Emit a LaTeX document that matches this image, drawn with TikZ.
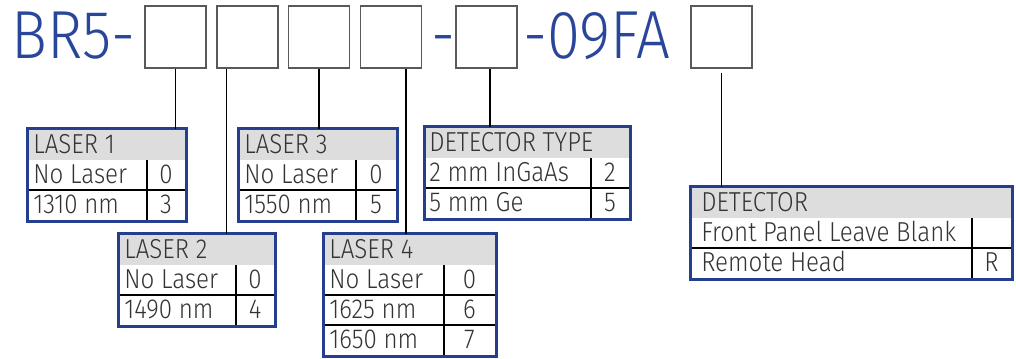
\documentclass[tikz,border=0pt]{standalone}
\usepackage{fontspec}
\setmainfont{Fira Sans Light}[FakeStretch=0.88]
\definecolor{codeblue}{HTML}{2A469B}
\definecolor{frameblue}{HTML}{233F8E}
\definecolor{cellgray}{HTML}{DDDDDD}
\definecolor{inkgray}{HTML}{333333}
\tikzset{
  slot/.style={draw=black!65, line width=0.85pt, minimum width=1.22cm, minimum height=1.24cm, inner sep=0pt},
  title/.style={text=codeblue, font=\fontsize{38.7}{40}\selectfont, inner sep=0pt, anchor=base west},
  lead/.style={black, line width=0.6pt},
  headfill/.style={fill=cellgray},
  headtext/.style={text=inkgray, font=\fontsize{15.6}{17}\selectfont, inner sep=0pt, anchor=base west},
  celltext/.style={headtext},
  codetext/.style={headtext, anchor=base},
  rowline/.style={black, line width=0.6pt},
  frame/.style={draw=frameblue, line width=1.7pt, anchor=north west, inner sep=0pt, outer sep=0pt}
}
\begin{document}
\begin{tikzpicture}[x=0.02cm, y=-0.02cm]
\useasboundingbox (0,0) rectangle (1016,358);
% part number
\node[title] (prefix) at (11,59) {BR5-};
\node[title] (dashA) at (431,59) {-};
\node[title] (suffix) at (523,59) {-09FA};
\node[slot] (slot1) at (175.5,37) {};
\node[slot] (slot2) at (247.5,37) {};
\node[slot] (slot3) at (319,37) {};
\node[slot] (slot4) at (391,37) {};
\node[slot] (slot5) at (486.5,37) {};
\node[slot] (slot6) at (721.5,37) {};

% laser 1
\begin{scope}[shift={(29,130)}]
  \fill[headfill] (0,0) rectangle (156,30);
  \node[headtext] (laserAt) at (4,23.5) {LASER 1};
  \foreach \name/\code [count=\i] in {No Laser/0, 1310 nm/3} {
    \node[celltext] (laserAn\i) at (4,23.5+30*\i) {\name};
    \node[codetext] (laserAc\i) at (137,23.5+30*\i) {\code};
  }
  \draw[rowline] (0,60) -- (156,60);
  \draw[rowline] (118,30) -- (118,90);
  \node[frame, minimum width=3.18cm, minimum height=1.86cm] (laserA) at (-1.5,-1.5) {};
\end{scope}

% laser 2
\begin{scope}[shift={(120,235)}]
  \fill[headfill] (0,0) rectangle (154,30);
  \node[headtext] (laserBt) at (4,23.5) {LASER 2};
  \foreach \name/\code [count=\i] in {No Laser/0, 1490 nm/4} {
    \node[celltext] (laserBn\i) at (4,23.5+30*\i) {\name};
    \node[codetext] (laserBc\i) at (135,23.5+30*\i) {\code};
  }
  \draw[rowline] (0,60) -- (154,60);
  \draw[rowline] (116,30) -- (116,90);
  \node[frame, minimum width=3.14cm, minimum height=1.86cm] (laserB) at (-1.5,-1.5) {};
\end{scope}

% laser 3
\begin{scope}[shift={(240,130)}]
  \fill[headfill] (0,0) rectangle (156,30);
  \node[headtext] (laserCt) at (4,23.5) {LASER 3};
  \foreach \name/\code [count=\i] in {No Laser/0, 1550 nm/5} {
    \node[celltext] (laserCn\i) at (4,23.5+30*\i) {\name};
    \node[codetext] (laserCc\i) at (136,23.5+30*\i) {\code};
  }
  \draw[rowline] (0,60) -- (156,60);
  \draw[rowline] (116,30) -- (116,90);
  \node[frame, minimum width=3.18cm, minimum height=1.86cm] (laserC) at (-1.5,-1.5) {};
\end{scope}

% laser 4
\begin{scope}[shift={(325,235)}]
  \fill[headfill] (0,0) rectangle (170,30);
  \node[headtext] (laserDt) at (4,23.5) {LASER 4};
  \foreach \name/\code [count=\i] in {No Laser/0, 1625 nm/6, 1650 nm/7} {
    \node[celltext] (laserDn\i) at (4,23.5+30*\i) {\name};
    \node[codetext] (laserDc\i) at (144.5,23.5+30*\i) {\code};
  }
  \foreach \y in {60,90}
    \draw[rowline] (0,\y) -- (170,\y);
  \draw[rowline] (119,30) -- (119,120);
  \node[frame, minimum width=3.46cm, minimum height=2.46cm] (laserD) at (-1.5,-1.5) {};
\end{scope}

% detector type
\begin{scope}[shift={(426,128)}]
  \fill[headfill] (0,0) rectangle (203,30);
  \node[headtext] (dettypet) at (3,23.5) {DETECTOR TYPE};
  \foreach \name/\code [count=\i] in {2 mm InGaAs/2, 5 mm Ge/5} {
    \node[celltext] (dettypen\i) at (3,23.5+30*\i) {\name};
    \node[codetext] (dettypec\i) at (184,23.5+30*\i) {\code};
  }
  \draw[rowline] (0,60) -- (203,60);
  \draw[rowline] (165,30) -- (165,90);
  \node[frame, minimum width=4.12cm, minimum height=1.86cm] (dettype) at (-1.5,-1.5) {};
\end{scope}

% detector
\begin{scope}[shift={(692,188)}]
  \fill[headfill] (0,0) rectangle (319,30);
  \node[headtext] (dett) at (9,23.5) {DETECTOR};
  \foreach \name/\code [count=\i] in {Front Panel Leave Blank/{}, Remote Head/R} {
    \node[celltext] (detn\i) at (9,23.5+30*\i) {\name};
    \node[codetext] (detc\i) at (299.5,23.5+30*\i) {\code};
  }
  \draw[rowline] (0,60) -- (319,60);
  \draw[rowline] (280,30) -- (280,90);
  \node[frame, minimum width=6.44cm, minimum height=1.86cm] (det) at (-1.5,-1.5) {};
\end{scope}

% leads
\draw[lead] (slot1.south) -- (slot1.south |- laserA.north);
\draw[lead] ([xshift=-0.42cm]slot2.south) coordinate (leadB) -- (leadB |- laserB.north);
\draw[lead] (slot3.south) -- (slot3.south |- laserC.north);
\draw[lead] ([xshift=0.3cm]slot4.south) coordinate (leadD) -- (leadD |- laserD.north);
\draw[lead] ([xshift=0.07cm]slot5.south) coordinate (leadE) -- (leadE |- dettype.north);
\draw[lead] ([yshift=-0.08cm]slot6.south) coordinate (leadF) -- (leadF |- det.north);
\end{tikzpicture}
\end{document}
